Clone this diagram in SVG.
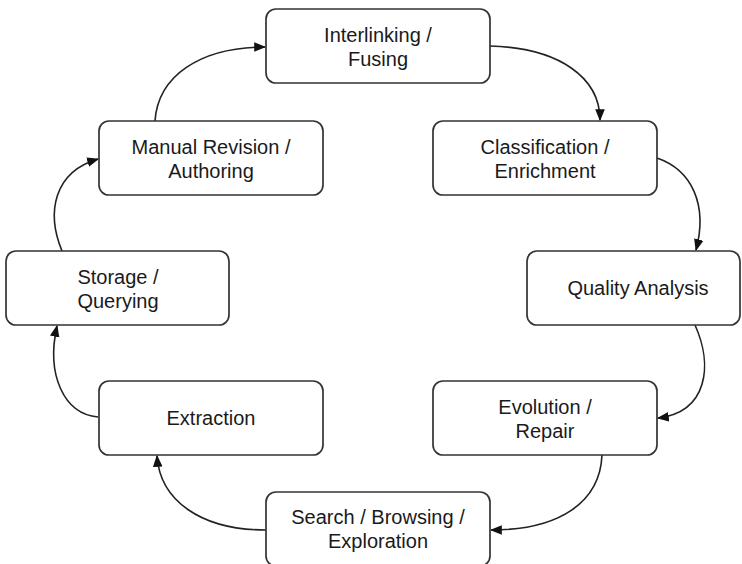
<svg xmlns="http://www.w3.org/2000/svg" width="742" height="564" viewBox="0 0 742 564">
<style>
.box{fill:#fff;stroke:#333;stroke-width:1.7}
.lbl{font-family:"Liberation Sans",Arial,Helvetica,sans-serif;font-size:20px;fill:#1a1a1a;text-anchor:middle}
.edge{fill:none;stroke:#222;stroke-width:1.6;marker-end:url(#ah)}
</style>
<defs>
<marker id="ah" viewBox="0 0 10 10" refX="9" refY="5" markerWidth="12" markerHeight="12" markerUnits="userSpaceOnUse" orient="auto">
<path d="M0,1 L10,5 L0,9 Z" fill="#111"/>
</marker>
</defs>
<rect width="742" height="564" fill="#fff"/>
<g id="connectors">
<path class="edge" d="M155,121 C158,76 200,47 265,47"/>
<path class="edge" d="M490,46 C560,48 600,78 600,120"/>
<path class="edge" d="M657,158 C692,170 708,205 696,250"/>
<path class="edge" d="M695,325 C713,365 708,412 658,418"/>
<path class="edge" d="M602,455 C600,502 560,530 491,530"/>
<path class="edge" d="M266,530 C200,530 160,500 157,456"/>
<path class="edge" d="M98,417 C64,414 46,375 57,326"/>
<path class="edge" d="M62,251 C46,212 54,172 98,159"/>
</g>
<g id="n1"><rect class="box" x="266" y="9" width="224" height="74" rx="10"/><text class="lbl" x="378" y="42">Interlinking /</text><text class="lbl" x="378" y="66">Fusing</text></g>
<g id="n2"><rect class="box" x="433" y="121" width="224" height="74" rx="10"/><text class="lbl" x="545" y="154">Classification /</text><text class="lbl" x="545" y="178">Enrichment</text></g>
<g id="n3"><rect class="box" x="527" y="251" width="213" height="74" rx="10"/><text class="lbl" x="638" y="295">Quality Analysis</text></g>
<g id="n4"><rect class="box" x="433" y="381" width="224" height="74" rx="10"/><text class="lbl" x="545" y="414">Evolution /</text><text class="lbl" x="545" y="438">Repair</text></g>
<g id="n5"><rect class="box" x="266" y="492" width="224" height="74" rx="10"/><text class="lbl" x="378" y="524">Search / Browsing /</text><text class="lbl" x="378" y="548">Exploration</text></g>
<g id="n6"><rect class="box" x="99" y="381" width="224" height="74" rx="10"/><text class="lbl" x="211" y="425">Extraction</text></g>
<g id="n7"><rect class="box" x="6" y="251" width="223" height="74" rx="10"/><text class="lbl" x="118" y="284">Storage /</text><text class="lbl" x="118" y="308">Querying</text></g>
<g id="n8"><rect class="box" x="99" y="121" width="224" height="74" rx="10"/><text class="lbl" x="211" y="154">Manual Revision /</text><text class="lbl" x="211" y="178">Authoring</text></g>
</svg>
